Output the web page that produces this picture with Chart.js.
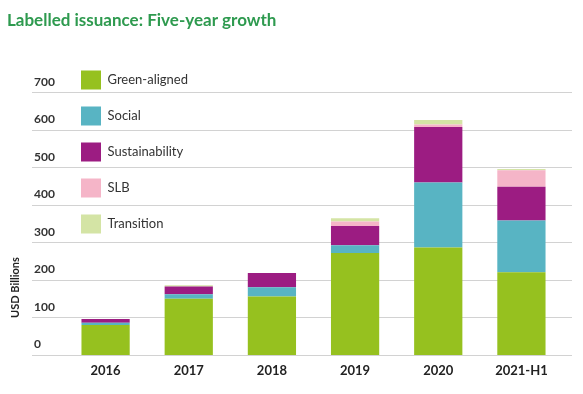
<!DOCTYPE html>
<html>
<head>
<meta charset="utf-8">
<title>Labelled issuance: Five-year growth</title>
<script src="https://cdn.jsdelivr.net/npm/chart.js@4.4.0/dist/chart.umd.min.js"></script>
<style>
    html, body { margin: 0; padding: 0; background: #fff; }
</style>
</head>
<body>
<canvas id="issuance-chart" width="583" height="394"></canvas>
<script>
// valores (USD bilhões)
const years = ['2016', '2017', '2018', '2019', '2020', '2021-H1'];
const greenAligned = [81, 151, 157, 273, 288, 222];
const social = [6, 12, 25, 21, 173, 138];
const sustainability = [10, 21, 38, 51, 148, 90];
const slb = [0, 0, 0, 12, 7, 44];
const transition = [0, 3, 0, 9, 12, 3];
const yTicks = [0, 100, 200, 300, 400, 500, 600, 700];

const gridColor = '#d2d2d2';

function keepTicks(scale) {
    scale.ticks = yTicks.map(v => ({ value: v }));
}

// a legenda 'chartArea' fica no topo do canvas; desce para dentro da área do gráfico
const legendInside = {
    id: 'legendInside',
    afterLayout(chart) {
        const legend = chart.legend;
        if (!legend) return;
        const h = legend.height;
        legend.top = chart.chartArea.top - 2;
        legend.bottom = legend.top + h;
    }
};

document.addEventListener("DOMContentLoaded", function () {
    const canvas = document.getElementById('issuance-chart');
    const ctx = canvas.getContext('2d');
    const issuanceChart = new Chart(ctx, {
        type: 'bar',
        data: {
            labels: years,
            datasets: [
                { label: 'Green-aligned', data: greenAligned, backgroundColor: '#96c11f' },
                { label: 'Social', data: social, backgroundColor: '#58b4c3' },
                { label: 'Sustainability', data: sustainability, backgroundColor: '#9c1c82' },
                { label: 'SLB', data: slb, backgroundColor: '#f5b5c8' },
                { label: 'Transition', data: transition, backgroundColor: '#d4e4a5' }
            ]
        },
        plugins: [legendInside],
        options: {
            responsive: false,
            animation: false,
            layout: { padding: { left: 7, right: 11, top: 0, bottom: 7 } },
            datasets: {
                bar: { categoryPercentage: 1, barPercentage: 0.58, borderWidth: 0 }
            },
            plugins: {
                title: {
                    display: true,
                    text: 'Labelled issuance: Five-year growth',
                    align: 'start',
                    color: '#2e9a4f',
                    font: { family: 'Lato', size: 17, weight: 'bold' },
                    padding: { top: 10, bottom: 25 }
                },
                legend: {
                    position: 'chartArea',
                    align: 'start',
                    labels: {
                        boxWidth: 20,
                        boxHeight: 19,
                        padding: 17,
                        color: '#333',
                        font: { family: 'Lato', size: 13 }
                    }
                },
                tooltip: { enabled: false }
            },
            scales: {
                x: {
                    stacked: true,
                    grid: { display: false, drawTicks: false },
                    border: { display: false },
                    ticks: {
                        color: '#222',
                        padding: 8,
                        font: { family: 'Lato', size: 13, weight: 'bold' }
                    }
                },
                y: {
                    stacked: true,
                    position: 'left',
                    weight: 0,
                    min: 0,
                    max: 800,
                    afterBuildTicks: keepTicks,
                    afterFit: function (scale) { scale.width = 30; },
                    grid: { color: gridColor, tickLength: 32 },
                    border: { display: false },
                    ticks: {
                        crossAlign: 'far',
                        labelOffset: -11,
                        color: '#333',
                        font: { family: 'Lato', size: 12, weight: 'bold' }
                    }
                },
                yTitle: {
                    position: 'left',
                    weight: 1,
                    min: 0,
                    max: 1,
                    afterFit: function (scale) { scale.width = 27; },
                    grid: { display: false },
                    border: { display: false },
                    ticks: { display: false },
                    title: {
                        display: true,
                        text: '\u00a0\u00a0\u00a0\u00a0\u00a0\u00a0\u00a0\u00a0\u00a0\u00a0\u00a0\u00a0\u00a0\u00a0USD Billions',
                        align: 'start',
                        color: '#222',
                        font: { family: 'Lato', size: 11, weight: 'bold' },
                        padding: { top: 2, bottom: 0 }
                    }
                },
                yRight: {
                    position: 'right',
                    min: 0,
                    max: 800,
                    afterBuildTicks: keepTicks,
                    grid: { color: gridColor, tickLength: 9, drawOnChartArea: false },
                    border: { display: false },
                    ticks: { display: false }
                }
            }
        }
    });
});
</script>
</body>
</html>
